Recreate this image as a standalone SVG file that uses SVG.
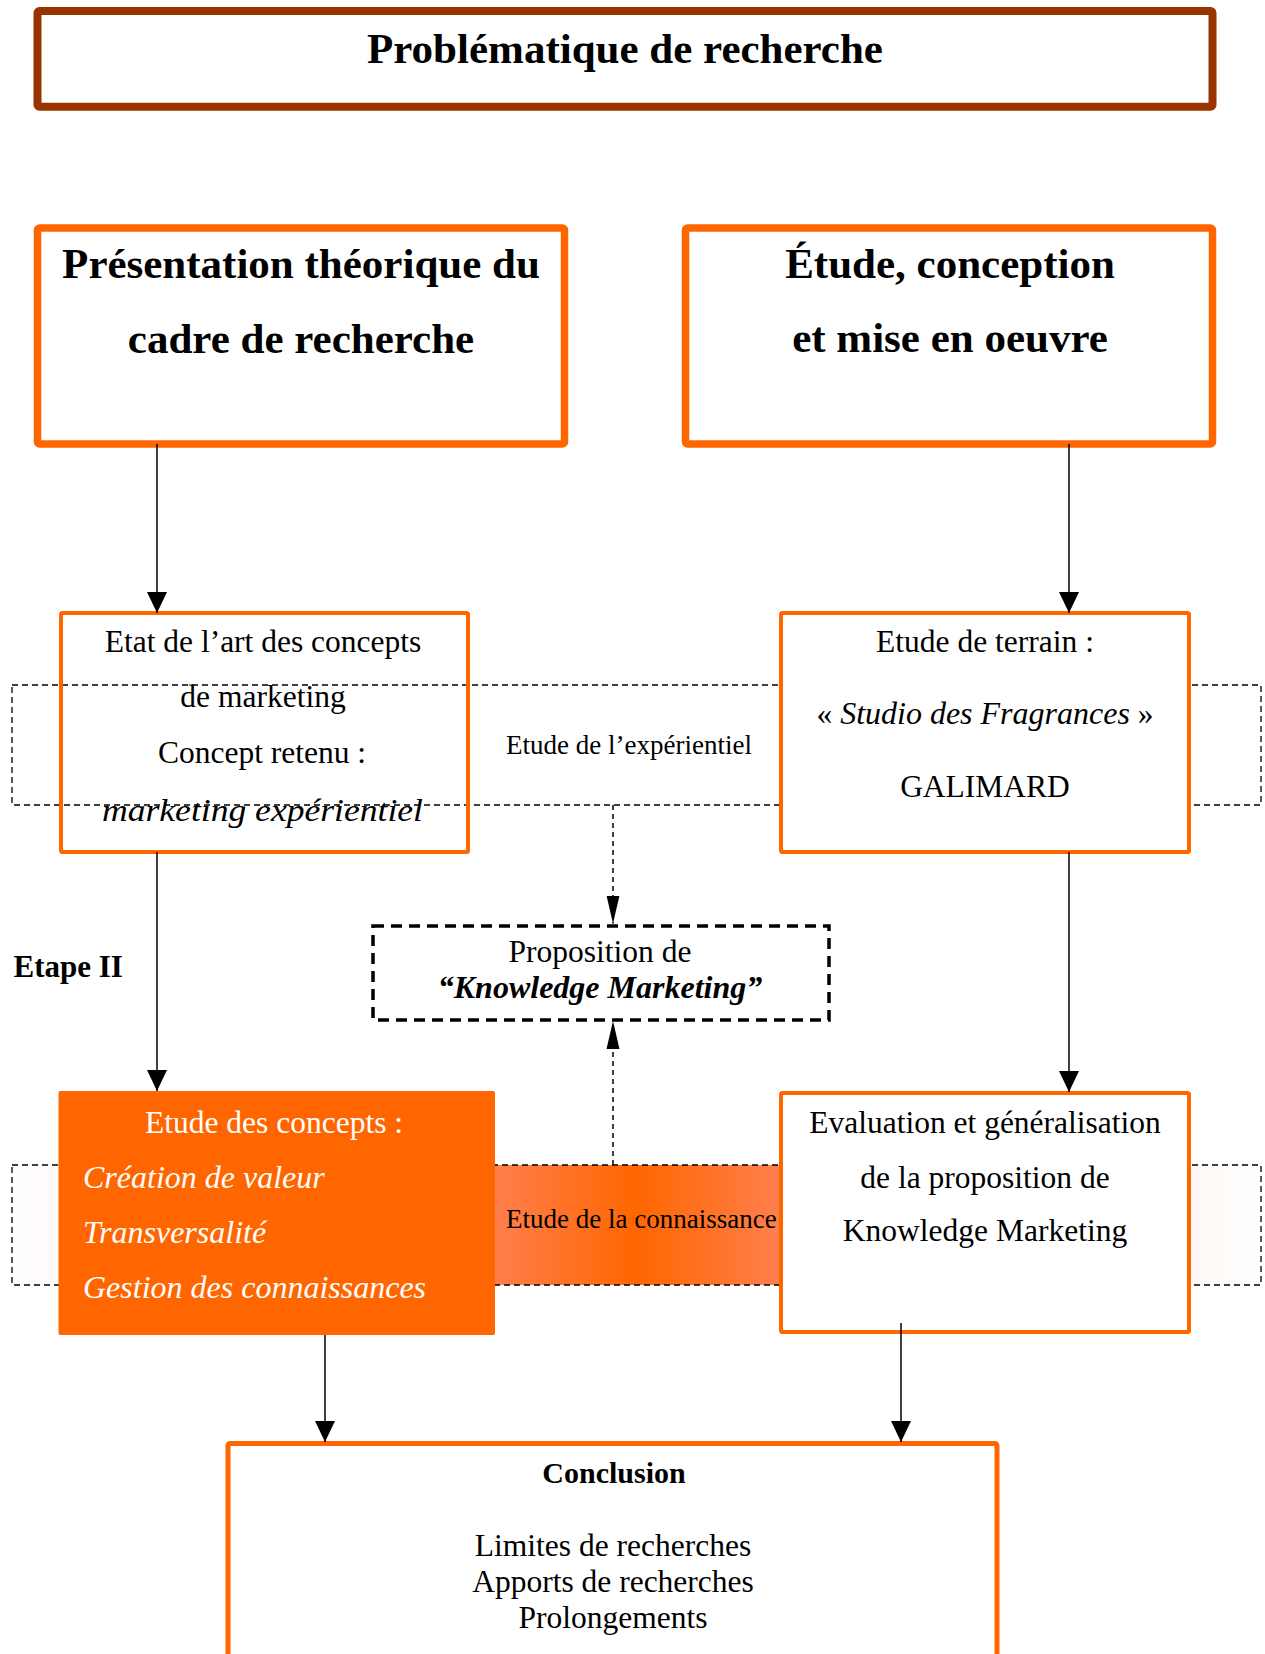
<svg xmlns="http://www.w3.org/2000/svg" width="1265" height="1654" viewBox="0 0 1265 1654">
<style>
text{font-family:"Liberation Serif","Times New Roman",serif;fill:#000}
.b{font-weight:bold}
.i{font-style:italic}
.big{font-size:43px;font-weight:bold;text-anchor:middle}
.t{font-size:31.5px;text-anchor:middle}
.ti{font-size:32px;font-style:italic}
.band{font-size:27px}
.box{fill:#fff;stroke:#FF6600}
.conn{stroke:#000;stroke-width:1.5;fill:none}
.dconn{stroke:#000;stroke-width:1.5;fill:none;stroke-dasharray:5 4}
.bandrect{stroke:#000;stroke-width:1.3;stroke-dasharray:6 4}
</style>
<defs>
<marker id="ah" markerUnits="userSpaceOnUse" markerWidth="21" markerHeight="20" refX="21" refY="10" orient="auto">
<path d="M0,0 L21,10 L0,20 z" fill="#000" stroke="none"/>
</marker>
<marker id="ahd" markerUnits="userSpaceOnUse" markerWidth="28" markerHeight="14" refX="28" refY="7" orient="auto">
<path d="M0,0.5 L28,7 L0,13.5 z" fill="#000" stroke="none"/>
</marker>
<linearGradient id="gband" x1="0" y1="0" x2="1" y2="0">
<stop offset="0" stop-color="#FFFFFF"/>
<stop offset="0.05" stop-color="#FFF9F7"/>
<stop offset="0.38" stop-color="#FF8050"/>
<stop offset="0.5" stop-color="#FF6600"/>
<stop offset="0.62" stop-color="#FF8050"/>
<stop offset="0.95" stop-color="#FFF9F7"/>
<stop offset="1" stop-color="#FFFFFF"/>
</linearGradient>
</defs>
<rect x="0" y="0" width="1265" height="1654" fill="#fff"/>

<g id="band-experientiel">
<rect class="bandrect" x="12" y="685" width="1249" height="120" fill="none"/>
<text class="band" x="506" y="754">Etude de l’expérientiel</text>
</g>

<g id="band-connaissance">
<rect class="bandrect" x="12" y="1165" width="1249" height="120" fill="url(#gband)"/>
</g>

<g id="title">
<rect x="37.5" y="11" width="1175" height="95.7" fill="#fff" stroke="#993300" stroke-width="8" rx="2"/>
<text class="big" x="625" y="62.7">Problématique de recherche</text>
</g>

<g id="presentation">
<rect class="box" x="37.5" y="228" width="527" height="216" stroke-width="7.5" rx="2"/>
<text class="big" x="301" y="278">Présentation théorique du</text>
<text class="big" x="301" y="353">cadre de recherche</text>
</g>

<g id="etude-conception">
<rect class="box" x="685.5" y="228" width="527" height="216" stroke-width="7.5" rx="2"/>
<text class="big" x="950" y="278">Étude, conception</text>
<text class="big" x="950" y="352">et mise en oeuvre</text>
</g>

<g id="etat-art">
<rect x="61" y="613" width="407" height="239" fill="none" stroke="#FF6600" stroke-width="4" rx="1.5"/>
<text class="t" x="263" y="651.7">Etat de l’art des concepts</text>
<text class="t" x="263" y="707.3">de marketing</text>
<text class="t" x="262" y="762.7">Concept retenu :</text>
<text class="ti" x="102" y="820.7" textLength="321" lengthAdjust="spacingAndGlyphs">marketing expérientiel</text>
</g>

<g id="etude-terrain">
<rect class="box" x="781" y="613" width="408" height="239" stroke-width="4" rx="1.5"/>
<text class="t" x="985" y="651.7">Etude de terrain :</text>
<text class="t" x="985" y="724">« <tspan class="i" font-size="32">Studio des Fragrances</tspan> »</text>
<text class="t" x="985" y="797.3">GALIMARD</text>
</g>

<g id="etape">
<text class="b" x="13.5" y="977" font-size="31">Etape II</text>
</g>

<g id="proposition">
<rect x="373" y="926" width="456" height="94" fill="#fff" stroke="#000" stroke-width="3.5" stroke-dasharray="11 7"/>
<text class="t" x="600" y="961.7" font-size="32">Proposition de</text>
<text x="600" y="998" font-size="32" font-weight="bold" font-style="italic" text-anchor="middle">“Knowledge Marketing”</text>
</g>

<g id="etude-concepts">
<rect x="58.5" y="1091" width="436.5" height="244" fill="#FF6600" rx="2"/>
<text class="t" x="274" y="1132.7" style="fill:#fff">Etude des concepts :</text>
<text class="ti" x="83" y="1188.3" style="fill:#fff">Création de valeur</text>
<text class="ti" x="83" y="1242.7" style="fill:#fff">Transversalité</text>
<text class="ti" x="83" y="1298.3" style="fill:#fff">Gestion des connaissances</text>
</g>

<g id="label-connaissance">
<text class="band" x="506" y="1228.3">Etude de la connaissance</text>
</g>

<g id="evaluation">
<rect class="box" x="781" y="1093" width="408" height="239" stroke-width="4" rx="1.5"/>
<text class="t" x="985" y="1133.3">Evaluation et généralisation</text>
<text class="t" x="985" y="1188.3">de la proposition de</text>
<text class="t" x="985" y="1240.7">Knowledge Marketing</text>
</g>

<g id="conclusion">
<rect class="box" x="228" y="1443.5" width="769" height="300" stroke-width="5" rx="2"/>
<text class="b" x="614" y="1482.7" font-size="30" text-anchor="middle">Conclusion</text>
<text class="t" x="613" y="1556">Limites de recherches</text>
<text class="t" x="613" y="1592.3">Apports de recherches</text>
<text class="t" x="613" y="1628.3">Prolongements</text>
</g>

<g id="connectors">
<line class="conn" x1="157" y1="444" x2="157" y2="613" marker-end="url(#ah)"/>
<line class="conn" x1="1069" y1="444" x2="1069" y2="613" marker-end="url(#ah)"/>
<line class="conn" x1="157" y1="852" x2="157" y2="1091" marker-end="url(#ah)"/>
<line class="conn" x1="1069" y1="852" x2="1069" y2="1092" marker-end="url(#ah)"/>
<line class="conn" x1="325" y1="1335" x2="325" y2="1442" marker-end="url(#ah)"/>
<line class="conn" x1="901" y1="1323" x2="901" y2="1442" marker-end="url(#ah)"/>
<line class="dconn" x1="613" y1="805" x2="613" y2="923.5" marker-end="url(#ahd)"/>
<line class="dconn" x1="613" y1="1165" x2="613" y2="1021" marker-end="url(#ahd)"/>
</g>
</svg>
